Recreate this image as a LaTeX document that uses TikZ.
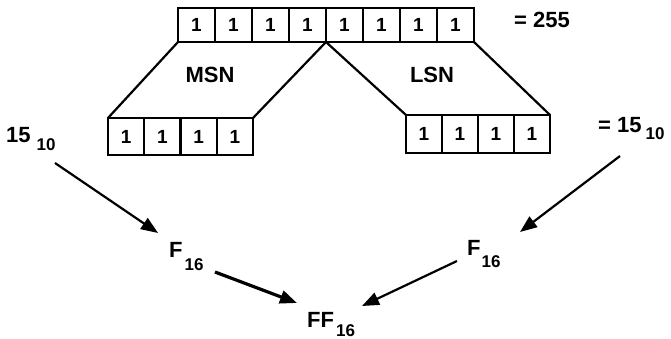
\documentclass[tikz,border=0pt]{standalone}
\usepackage{fontspec}
\setmainfont{Liberation Sans}
\usetikzlibrary{arrows.meta}
\newcommand{\cellfont}{\fontsize{19}{19}\selectfont\bfseries}
\newcommand{\labfont}{\fontsize{22}{22}\selectfont\bfseries}
\newcommand{\subfont}{\fontsize{17}{17}\selectfont\bfseries}
\newcommand{\lowsub}[2]{\raisebox{-#1pt}{\subfont #2}}
\tikzset{
  cell/.style={draw, line width=2.2pt, outer sep=0pt, inner sep=0pt, font=\cellfont},
  link/.style={line width=2.2pt},
  lab/.style={inner sep=0pt, anchor=base west, font=\labfont},
  arr/.style={line width=2.2pt, -{Triangle[length=17pt,width=13pt]}},
}
\begin{document}
\begin{tikzpicture}[x=1pt,y=-1pt]
\useasboundingbox (0,0) rectangle (671,339);
% top register
\foreach \i in {1,...,8}{
  \node[cell, minimum width=37pt, minimum height=34pt] (t\i) at ({178+37*(\i-0.5)},25) {1};
}
% MSN register
\foreach \i in {1,...,4}{
  \node[cell, minimum width=36.25pt, minimum height=37pt] (m\i) at ({108+36.25*(\i-0.5)},136.5) {1};
}
% LSN register
\foreach \i in {1,...,4}{
  \node[cell, minimum width=36pt, minimum height=38pt] (l\i) at ({406+36*(\i-0.5)},134) {1};
}
\draw[link] (t1.south west) -- (m1.north west);
\draw[link] (t4.south east) -- (m4.north east);
\draw[link] (t5.south west) -- (l1.north west);
\draw[link] (t8.south east) -- (l4.north east);
% labels
\node[lab] (v255) at (514,28) {= 255};
\node[inner sep=0pt, anchor=base, font=\labfont] (msn) at (210,83) {MSN};
\node[inner sep=0pt, anchor=base, font=\labfont] (lsn) at (432,83) {LSN};
\node[lab] (l15) at (6,143) {15\kern6pt\lowsub{7}{10}};
\node[lab] (r15) at (598,133) {= 15\kern4pt\lowsub{7}{10}};
\node[lab] (lf) at (169,257) {F\kern2pt\lowsub{13}{16}};
\node[lab] (rf) at (467,255) {F\kern1pt\lowsub{12}{16}};
\node[lab] (ff) at (307,327) {FF\kern2pt\lowsub{9}{16}};
% arrow ends
\coordinate (a1s) at (55,163);
\coordinate (a1e) at (158,233);
\coordinate (a2s) at (620,156);
\coordinate (a2e) at (520,232);
\coordinate (a3s) at (215,272);
\coordinate (a3e) at (297,303);
\coordinate (a4s) at (457,261);
\coordinate (a4e) at (362,306);
\draw[arr] (a1s) -- (a1e);
\draw[arr] (a2s) -- (a2e);
\draw[arr, line width=3.2pt] (a3s) -- (a3e);
\draw[arr] (a4s) -- (a4e);
\end{tikzpicture}
\end{document}
